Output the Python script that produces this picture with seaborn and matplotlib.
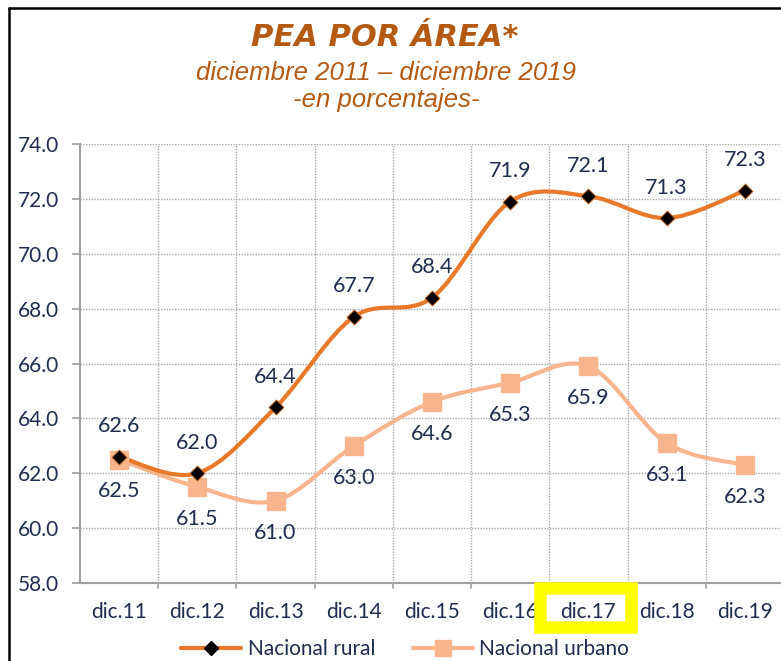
import numpy as np
import pandas as pd
import matplotlib
matplotlib.use("Agg")
import matplotlib.pyplot as plt
import seaborn as sns
from matplotlib.path import Path
from matplotlib.patches import PathPatch, Rectangle
from matplotlib.lines import Line2D

categories = ["dic.11", "dic.12", "dic.13", "dic.14", "dic.15", "dic.16", "dic.17", "dic.18", "dic.19"]
rural = [62.6, 62.0, 64.4, 67.7, 68.4, 71.9, 72.1, 71.3, 72.3]
urbano = [62.5, 61.5, 61.0, 63.0, 64.6, 65.3, 65.9, 63.1, 62.3]
yticks = [58.0, 60.0, 62.0, 64.0, 66.0, 68.0, 70.0, 72.0, 74.0]

sns.set_theme(style="white")
plt.rcParams["font.family"] = ["Lato", "DejaVu Sans"]

C_RURAL = "#E8792A"
C_URB = "#F8B48C"
C_TXT = "#1F2D50"
C_TITLE = "#B45A12"

fig = plt.figure(figsize=(7.81, 6.61), dpi=100)
ax = fig.add_axes([80/781, 78/661, 704/781, 439/661])

df = pd.DataFrame({"cat": categories * 2,
                   "val": rural + urbano,
                   "serie": ["Nacional rural"] * 9 + ["Nacional urbano"] * 9})


def smooth_path(ys):
    xs = np.arange(len(ys), dtype=float)
    pts = np.column_stack([xs, np.asarray(ys, float)])
    verts = [pts[0]]
    codes = [Path.MOVETO]
    n = len(pts)
    for i in range(n - 1):
        p0 = pts[i - 1] if i > 0 else pts[i]
        p1 = pts[i]
        p2 = pts[i + 1]
        p3 = pts[i + 2] if i + 2 < n else pts[i + 1]
        c1 = p1 + (p2 - p0) / 6.0
        c2 = p2 - (p3 - p1) / 6.0
        verts += [c1, c2, p2]
        codes += [Path.CURVE4] * 3
    return Path(verts, codes)


ax.add_patch(PathPatch(smooth_path(urbano), facecolor="none", edgecolor=C_URB, lw=3, zorder=3))
ax.add_patch(PathPatch(smooth_path(rural), facecolor="none", edgecolor=C_RURAL, lw=3, zorder=4))

sns.scatterplot(data=df[df.serie == "Nacional urbano"], x="cat", y="val", marker="s",
                s=150, color=C_URB, edgecolor=C_URB, ax=ax, zorder=5, legend=False)
sns.scatterplot(data=df[df.serie == "Nacional rural"], x="cat", y="val", marker="D",
                s=60, color="black", edgecolor=C_RURAL, linewidth=0.6, ax=ax, zorder=6, legend=False)

for i, v in enumerate(rural):
    ax.annotate(f"{v:.1f}", (i, v), xytext=(0, 22), textcoords="offset points",
                ha="center", va="center", fontsize=15.5, color=C_TXT, zorder=7)
for i, v in enumerate(urbano):
    ax.annotate(f"{v:.1f}", (i, v), xytext=(0, -23), textcoords="offset points",
                ha="center", va="center", fontsize=15.5, color=C_TXT, zorder=7)

ax.set_xlim(-0.5, 8.5)
ax.set_ylim(58, 74)
ax.set_yticks(yticks)
ax.set_yticklabels([f"{t:.1f}" for t in yticks], fontsize=15, color=C_TXT)
ax.set_xticks(range(9))
ax.set_xticklabels(categories, fontsize=15, color=C_TXT)
ax.tick_params(axis="x", length=0, pad=14)
ax.tick_params(axis="y", length=6, width=1.2, color="#A0A0A0", left=True, pad=9)
ax.set_xlabel("")
ax.set_ylabel("")

for y in yticks[1:]:
    ax.axhline(y, color="#A8A8A8", lw=1, ls=(0, (1, 1)), zorder=1)
for x in np.arange(0.5, 8.5, 1.0):
    ax.axvline(x, color="#A8A8A8", lw=1, ls=(0, (1, 1)), zorder=1)
for x in np.arange(0.5, 8.5, 1.0):
    ax.plot([x, x], [58, 57.8], color="#A0A0A0", lw=1.2, clip_on=False)

for s in ["top", "right"]:
    ax.spines[s].set_visible(False)
for s in ["left", "bottom"]:
    ax.spines[s].set_color("#A0A0A0")
    ax.spines[s].set_linewidth(1.5)

fig.text(385/781, 1 - 37/661, "PEA POR ÁREA*", ha="center", va="center",
         fontsize=22, fontweight="bold", fontstyle="italic", color=C_TITLE,
         family=["DejaVu Sans"])
fig.text(386/781, 1 - 73/661, "diciembre 2011 – diciembre 2019", ha="center", va="center",
         fontsize=18.5, fontstyle="italic", color=C_TITLE, family=["Liberation Sans", "DejaVu Sans"])
fig.text(386/781, 1 - 100/661, "-en porcentajes-", ha="center", va="center",
         fontsize=18.5, fontstyle="italic", color=C_TITLE, family=["Liberation Sans", "DejaVu Sans"])

handles = [Line2D([0], [0], color=C_RURAL, lw=3, marker="D", markersize=7,
                  markerfacecolor="black", markeredgecolor="black"),
           Line2D([0], [0], color=C_URB, lw=3, marker="s", markersize=11,
                  markerfacecolor=C_URB, markeredgecolor=C_URB)]
fig.legend(handles, ["Nacional rural", "Nacional urbano"], loc="center",
           bbox_to_anchor=(405/781, 1 - 649/661), ncol=2, frameon=False,
           fontsize=15, labelcolor=C_TXT, handlelength=2.9, columnspacing=1.8, handletextpad=0.3,
           borderpad=0.2)

# yellow highlight box around dic.17
fig.add_artist(Rectangle((540/781, 1 - 627/661), 91/781, 39/661, transform=fig.transFigure,
                         facecolor="none", edgecolor="#FFFF00", lw=9, zorder=10))
# black frame (left and top)
fig.add_artist(Line2D([9/781, 9/781], [0, 1 - 8/661], transform=fig.transFigure, color="black", lw=1.8))
fig.add_artist(Line2D([9/781, 1], [1 - 8/661, 1 - 8/661], transform=fig.transFigure, color="black", lw=1.8))

fig.savefig("out.png", dpi=100)
